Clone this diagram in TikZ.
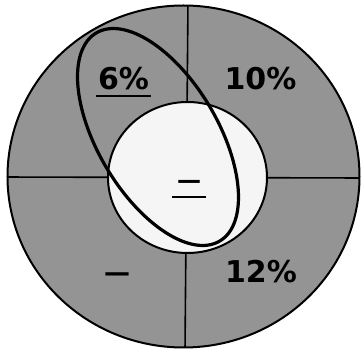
\documentclass[tikz,border=0pt]{standalone}
\usepackage{fontspec}
\newfontfamily\labelfont[BoldFont={DejaVu Sans Bold}]{DejaVu Sans}
\usetikzlibrary{positioning}

\tikzset{
	ring/.style={fill=black!42},
	divider/.style={line width=1.6pt},
	pct/.style={font=\labelfont\bfseries\fontsize{30}{36}\selectfont, anchor=base, inner sep=0pt},
	dashlabel/.style={font=\labelfont\bfseries\fontsize{26}{30}\selectfont, anchor=base, inner sep=0pt},
	uline/.style={line width=2.2pt},
}

\begin{document}
\begin{tikzpicture}[x=1pt, y=1pt]
	\useasboundingbox (0,0) rectangle (362,351);
	\fill[ring] (183.5,174.5) ellipse [x radius=176, y radius=171];
	\begin{scope}
		\clip (183.5,174.5) ellipse [x radius=176, y radius=171];
		\draw[divider] (188,351) -- (185,0);
		\draw[divider] (0,174) -- (362,173);
	\end{scope}
	\draw[line width=2pt] (183.5,174.5) ellipse [x radius=176, y radius=171];
	\filldraw[fill=black!4, line width=2pt] (187.5,173.5) ellipse [x radius=79.5, y radius=75.5];
	\draw[line width=3.2pt, rotate around={-59.3:(158,214)}] (158,214) ellipse [x radius=121, y radius=60];

	\node[pct, inner xsep=1.5pt, inner ysep=5pt] (six) at (123.5,261) {6\%};
	\draw[uline] (six.south west) -- (six.south east);
	\node[pct] (ten) at (260.5,261) {10\%};
	\node[pct] (twelve) at (261,68) {12\%};
	\node[dashlabel] (minus) at (117,69) {—};
	\node[dashlabel, font=\labelfont\bfseries\fontsize{24}{28}\selectfont, inner xsep=5pt, inner ysep=8pt] (mid) at (189,162) {—};
	\draw[uline] (mid.south west) -- (mid.south east);
\end{tikzpicture}
\end{document}
